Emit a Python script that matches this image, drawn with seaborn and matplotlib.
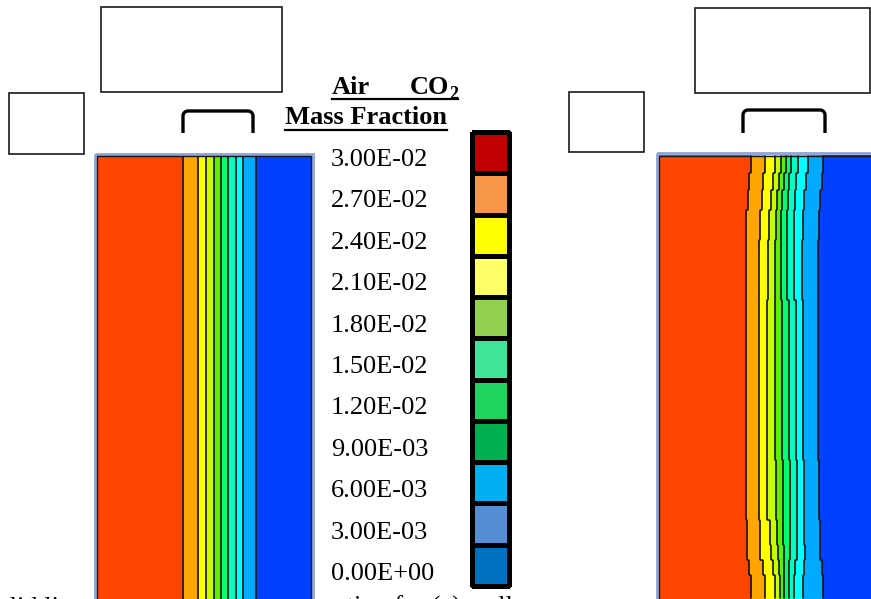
import numpy as np
import matplotlib
matplotlib.use("Agg")
import matplotlib.pyplot as plt
from matplotlib.colors import ListedColormap
from matplotlib.patches import Rectangle
import seaborn as sns

# legend (colour key) values and colours, top to bottom
mass_fraction_levels = [3.0e-02, 2.7e-02, 2.4e-02, 2.1e-02, 1.8e-02, 1.5e-02,
                        1.2e-02, 9.0e-03, 6.0e-03, 3.0e-03, 0.0e+00]
legend_colors = ["#C00000", "#F79646", "#FFFF00", "#FFFF66", "#92D050", "#3FE596",
                 "#1FD35C", "#00B050", "#00B0F0", "#558ED5", "#0070C0"]

# band colours of the contour fields (high -> low)
band_colors = ["#FF4500", "#FFA500", "#FFFF00", "#C8FF00", "#5CF000",
               "#00FF6E", "#00FFC0", "#00FFFF", "#00AAFF", "#0040FF"]

# iso-concentration front positions (px from panel left), left panel (a)
left_fronts = [85.7, 100.7, 109, 117, 123.7, 130.7, 138.7, 146.3, 158.7]

# right panel (b): fronts change with depth (px from panel top)
right_rows = [0, 18, 35, 55, 85, 145, 305, 365, 390, 405, 420]
right_fronts = [
    [92, 106, 116, 122, 127, 132, 139, 149, 164],
    [90, 104, 114, 120, 125, 130, 137, 147, 163],
    [89, 103, 112, 118, 123, 129, 136, 145, 161],
    [87, 101, 110, 117, 122, 128, 135, 144, 160],
    [87, 100, 109, 116, 122, 128, 135, 143, 159],
    [87, 100, 108, 116, 123, 130, 137, 144, 159],
    [87, 100, 108, 117, 124, 131, 138, 145, 160],
    [88, 101, 111, 118, 124, 131, 138, 145, 161],
    [88, 101, 112, 119, 125, 131, 138, 146, 161],
    [90, 104, 114, 120, 125, 130, 136, 145, 163],
    [92, 106, 116, 121, 125, 130, 135, 144, 164],
]

W, H = 871, 599
fig = plt.figure(figsize=(W / 100, H / 100), dpi=100)
serif = ["Liberation Serif", "DejaVu Serif"]


def px_axes(x0, y0, x1, y1):
    return fig.add_axes([x0 / W, 1 - y1 / H, (x1 - x0) / W, (y1 - y0) / H])


def band_grid(width, height, rows, fronts):
    xs = np.arange(width) + 0.5
    g = np.zeros((height, width), dtype=int)
    for r in range(height):
        k = np.searchsorted(rows, r, side="right") - 1
        g[r] = np.searchsorted(fronts[k], xs)
    return g


band_cmap = ListedColormap(band_colors)


def draw_field(ax, grid):
    sns.heatmap(grid, cmap=band_cmap, vmin=-0.5, vmax=9.5, cbar=False, ax=ax,
                xticklabels=False, yticklabels=False)
    ny, nx = grid.shape
    ax.contour(np.arange(nx) + 0.5, np.arange(ny) + 0.5, grid,
               levels=np.arange(0.5, 9.5, 1.0), colors="#111111", linewidths=1.2)
    ax.set_xlim(0, nx)
    ax.set_ylim(ny, 0)
    ax.set_axis_off()


# left field
ax_l = px_axes(97, 155, 311, 599)
draw_field(ax_l, band_grid(214, 444, [0], [left_fronts]))

# right field
ax_r = px_axes(659, 155, 871, 599)
draw_field(ax_r, band_grid(212, 444, right_rows, right_fronts))

# colour key
ax_k = px_axes(472, 132, 509, 586)
sns.heatmap(np.arange(len(legend_colors))[:, None], cmap=ListedColormap(legend_colors),
            vmin=-0.5, vmax=len(legend_colors) - 0.5, cbar=False, ax=ax_k,
            linewidths=2.3, linecolor="black", xticklabels=False, yticklabels=False)
ax_k.collections[0].set_clip_on(False)

# overlay for boxes, brackets, text
ov = fig.add_axes([0, 0, 1, 1])
ov.set_zorder(5)
ov.patch.set_visible(False)
ov.set_xlim(0, W)
ov.set_ylim(H, 0)
ov.set_axis_off()

for (x0, y0, x1, y1) in [(101, 7, 282, 92), (9, 93, 84, 154),
                         (569, 92, 644, 152), (695, 8, 870, 93)]:
    ov.add_patch(Rectangle((x0, y0), x1 - x0, y1 - y0, fill=False,
                           edgecolor="#1a1a1a", linewidth=1.2))

for (x0, x1, yt, yb) in [(183, 253, 111, 133), (743, 825, 110, 133)]:
    r = 5
    t = np.linspace(0, np.pi / 2, 10)
    xs = np.concatenate([[x0], x0 + r - r * np.cos(t), x1 - r + r * np.sin(t), [x1]])
    ys = np.concatenate([[yb], yt + r - r * np.sin(t), yt + r - r * np.cos(t), [yb]])
    ov.plot(xs, ys, color="black", linewidth=2.4, solid_capstyle="butt")

# panel borders
ov.add_patch(Rectangle((94.5, 153.5), 218, 480, fill=False, edgecolor="#8DA4D9", linewidth=2.0))
ov.add_patch(Rectangle((96.5, 155.5), 214.3, 480, fill=False, edgecolor="#1a1a1a", linewidth=1.0))
ov.add_patch(Rectangle((656.8, 153.3), 240, 480, fill=False, edgecolor="#8DA4D9", linewidth=2.0))
ov.add_patch(Rectangle((658.5, 155.5), 240, 480, fill=False, edgecolor="#1a1a1a", linewidth=1.0))

# title
ov.text(332, 94, "Air", fontsize=19, fontweight="bold", family=serif, va="baseline")
ov.text(410, 94, "CO", fontsize=19, fontweight="bold", family=serif, va="baseline")
ov.text(449, 99, "2", fontsize=13, fontweight="bold", family=serif, va="baseline")
ov.plot([332, 458], [99, 99], color="black", linewidth=1.6)
ov.text(285, 124, "Mass Fraction", fontsize=19, fontweight="bold", family=serif, va="baseline")
ov.plot([285, 447], [129.5, 129.5], color="black", linewidth=1.6)

for i, v in enumerate(mass_fraction_levels):
    ov.text(331, 166 + 41.4 * i, "%.2E" % v, fontsize=19, family=serif, va="baseline")

# caption, mostly cut off by the bottom edge
fig.text(-14 / W, 1 - 614 / H, "solid lines", fontsize=19, family=serif, zorder=-1)
fig.text(335 / W, 1 - 614 / H, "ation for (a) wall", fontsize=19, family=serif, zorder=-1)

fig.savefig("out.png", dpi=100)
